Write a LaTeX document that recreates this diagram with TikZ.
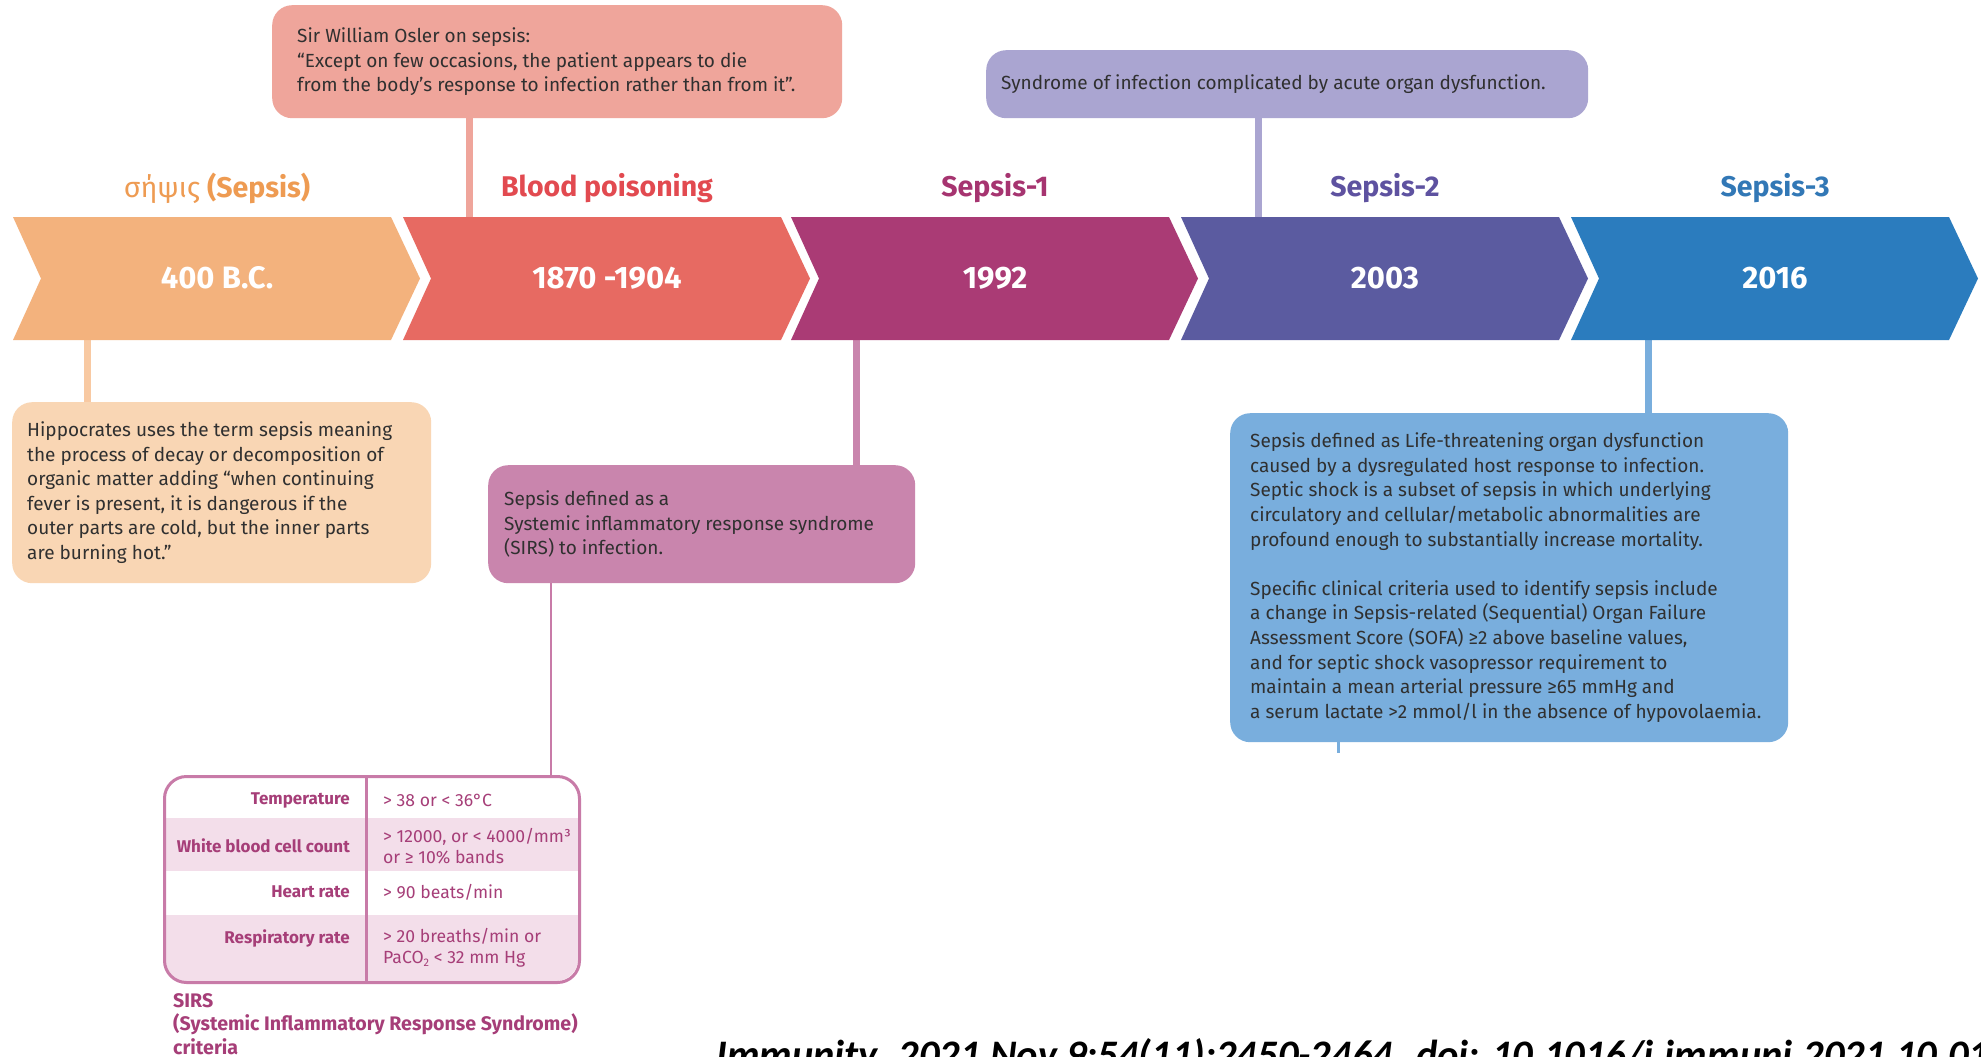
\documentclass[tikz,border=0pt]{standalone}
\usepackage{fontspec}
\setmainfont{Fira Sans}
\newfontfamily\citefont{Carlito}
\usetikzlibrary{calc}

% timeline colours
\definecolor{cOne}{HTML}{F3B27D}
\definecolor{tOne}{HTML}{EE9B52}
\definecolor{cTwo}{HTML}{E76A62}
\definecolor{tTwo}{HTML}{E24A50}
\definecolor{cThree}{HTML}{AA3B75}
\definecolor{tThree}{HTML}{A63470}
\definecolor{cFour}{HTML}{5B5BA0}
\definecolor{tFour}{HTML}{5E52A0}
\definecolor{cFive}{HTML}{2B7CBE}
\definecolor{tFive}{HTML}{3278B6}
% callout colours
\definecolor{oslerfill}{HTML}{EFA59B}
\definecolor{syndfill}{HTML}{AAA5D1}
\definecolor{hippofill}{HTML}{F9D6B4}
\definecolor{hippoline}{HTML}{F8C9A2}
\definecolor{sonefill}{HTML}{C985AD}
\definecolor{sthreefill}{HTML}{79AEDD}
\definecolor{sirsline}{HTML}{C87BA8}
\definecolor{sirsshade}{HTML}{F3DEEA}
\definecolor{sirstext}{HTML}{A63E78}
\definecolor{bodytext}{HTML}{303030}

\newcommand\chevronpath[2]{%
  \fill[#2] (#1,217) -- ++(378,0) -- ++(29,61.5) -- ++(-29,61.5)
    -- ++(-378,0) -- ++(28,-61.5) -- cycle;}

\tikzset{
  era/.style={font=\bfseries\fontsize{28.5}{30}\selectfont, inner sep=0},
  datelabel/.style={text=white, font=\bfseries\fontsize{31}{33}\selectfont, inner sep=0},
  callout/.style={rounded corners=20, anchor=north west, inner sep=0},
  callouttext/.style={anchor=west, align=left, inner sep=0, text=bodytext,
    font=\fontsize{19}{24.6}\selectfont},
  link/.style={line width=7},
  sirslabel/.style={text=sirstext, anchor=east, inner sep=0,
    font=\bfseries\fontsize{17}{21}\selectfont},
  sirsvalue/.style={text=sirstext, anchor=west, inner sep=0, align=left,
    font=\fontsize{17.6}{21}\selectfont},
}

\begin{document}
\begin{tikzpicture}[x=1pt,y=-1pt]
\fill[white] (0,0) rectangle (1981,1057);
\useasboundingbox (0,0) rectangle (1981,1057);

% reference levels of the arrow band
\coordinate (bandtop) at (0,217);
\coordinate (bandbot) at (0,340);

% callout boxes
\node[callout, fill=oslerfill, minimum width=570, minimum height=113] (osler) at (272,5) {};
\node[callouttext] (oslertext) at ([xshift=25]osler.west)
  {Sir William Osler on sepsis:\\
   “Except on few occasions, the patient appears to die\\
   from the body’s response to infection rather than from it”.};
\node[callout, fill=syndfill, minimum width=602, minimum height=68] (synd) at (986,50) {};
\node[callouttext] (syndtext) at ([xshift=15]synd.west)
  {Syndrome of infection complicated by acute organ dysfunction.};
\node[callout, fill=hippofill, minimum width=419, minimum height=181] (hippo) at (12,402) {};
\node[callouttext] (hippotext) at ([xshift=15]hippo.west)
  {Hippocrates uses the term sepsis meaning\\
   the process of decay or decomposition of\\
   organic matter adding “when continuing\\
   fever is present, it is dangerous if the\\
   outer parts are cold, but the inner parts\\
   are burning hot.”};
\node[callout, fill=sonefill, minimum width=427, minimum height=118] (sone) at (488,465) {};
\node[callouttext] (sonetext) at ([xshift=16]sone.west)
  {Sepsis defined as a\\
   Systemic inflammatory response syndrome\\
   (SIRS) to infection.};
\node[callout, fill=sthreefill, minimum width=558, minimum height=329] (sthree) at (1230,413) {};
\node[callouttext] (sthreetext) at ([xshift=20]sthree.west)
  {Sepsis defined as Life-threatening organ dysfunction\\
   caused by a dysregulated host response to infection.\\
   Septic shock is a subset of sepsis in which underlying\\
   circulatory and cellular/metabolic abnormalities are\\
   profound enough to substantially increase mortality.\\[24.6pt]
   Specific clinical criteria used to identify sepsis include\\
   a change in Sepsis-related (Sequential) Organ Failure\\
   Assessment Score (SOFA) ≥2 above baseline values,\\
   and for septic shock vasopressor requirement to\\
   maintain a mean arterial pressure ≥65 mmHg and\\
   a serum lactate >2 mmol/l in the absence of hypovolaemia.};

% SIRS criteria table
\begin{scope}
  \clip[rounded corners=22] (163,775) rectangle (578,981);
  \fill[sirsshade] (163,818) rectangle (578,871);
  \fill[sirsshade] (163,915) rectangle (578,981);
\end{scope}
\node[draw=sirsline, line width=3, rounded corners=22, minimum width=415,
  minimum height=206, anchor=north west, inner sep=0] (sirs) at (163,775) {};
\draw[sirsline, line width=3] (366,775) -- (366,981);
\node[sirslabel] (l1) at (350,800) {Temperature};
\node[sirslabel] (l2) at (350,846) {White blood cell count};
\node[sirslabel] (l3) at (350,892) {Heart rate};
\node[sirslabel] (l4) at (350,938) {Respiratory rate};
\node[sirsvalue] (v1) at (383,800) {> 38 or < 36°C};
\node[sirsvalue] (v2) at (383,846) {> 12000, or < 4000/mm³\\or ≥ 10\% bands};
\node[sirsvalue] (v3) at (383,892) {> 90 beats/min};
\node[sirsvalue] (v4) at (383,948) {> 20 breaths/min or\\PaCO\raisebox{-0.25ex}{\fontsize{11}{11}\selectfont 2} < 32 mm Hg};
\node[anchor=north west, align=left, inner sep=0, text=sirstext,
  font=\bfseries\fontsize{19.6}{23.5}\selectfont] (sirscap) at (173,993)
  {SIRS\\(Systemic Inflammatory Response Syndrome)\\criteria};

% connectors from the band to the callouts
\coordinate (xosler) at (469,0);
\coordinate (xsynd) at (1258,0);
\coordinate (xhippo) at (87,0);
\coordinate (xsone) at (856,0);
\coordinate (xsthree) at (1648,0);
\coordinate (xsirs) at (551,0);
\coordinate (xstub) at (1338,0);
\draw[link, oslerfill] (xosler |- osler.south) -- (xosler |- bandtop);
\draw[link, syndfill] (xsynd |- synd.south) -- (xsynd |- bandtop);
\draw[link, hippoline] (xhippo |- bandbot) -- (xhippo |- hippo.north);
\draw[link, sonefill] (xsone |- bandbot) -- (xsone |- sone.north);
\draw[link, sthreefill] (xsthree |- bandbot) -- (xsthree |- sthree.north);
\draw[sirsline, line width=2.5] (xsirs |- sone.south) -- (xsirs |- sirs.north);
\coordinate (stubend) at (1338,753);
\draw[sthreefill, line width=3] (xstub |- sthree.south) -- (stubend);

% arrow band
\chevronpath{13}{cOne}
\chevronpath{403}{cTwo}
\chevronpath{791}{cThree}
\chevronpath{1181}{cFour}
\chevronpath{1571}{cFive}

\node[datelabel] (d1) at (217,278) {400 B.C.};
\node[datelabel] (d2) at (607,278) {1870 -1904};
\node[datelabel] (d3) at (995,278) {1992};
\node[datelabel] (d4) at (1385,278) {2003};
\node[datelabel] (d5) at (1775,278) {2016};

\node[era, text=tOne] (e1) at (217,188) {{\mdseries σήψις} (Sepsis)};
\node[era, text=tTwo] (e2) at (607,188) {Blood poisoning};
\node[era, text=tThree] (e3) at (995,188) {Sepsis-1};
\node[era, text=tFour] (e4) at (1385,188) {Sepsis-2};
\node[era, text=tFive] (e5) at (1775,188) {Sepsis-3};

% source line
\node[anchor=base west, inner sep=0,
  font=\citefont\bfseries\itshape\fontsize{40.5}{42}\selectfont] (cite) at (716,1068)
  {Immunity. 2021 Nov 9;54(11):2450-2464. doi: 10.1016/j.immuni.2021.10.01};
\end{tikzpicture}
\end{document}
